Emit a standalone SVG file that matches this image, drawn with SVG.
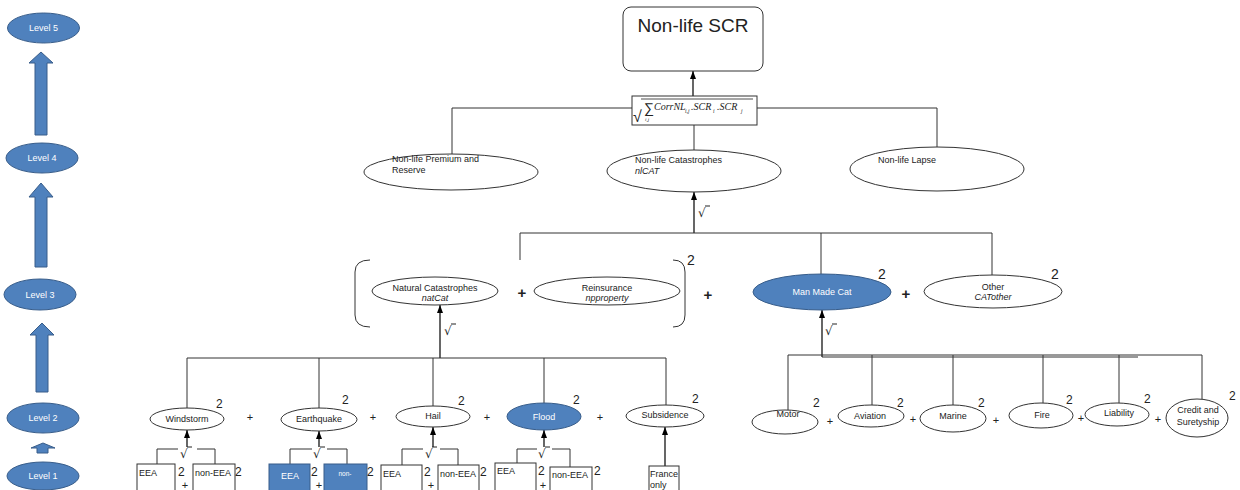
<svg xmlns="http://www.w3.org/2000/svg" width="1240" height="490" viewBox="0 0 1240 490">
<defs>
<marker id="ah" markerWidth="8" markerHeight="6" refX="8" refY="3" orient="auto" markerUnits="userSpaceOnUse" viewBox="0 0 8 6">
<path d="M0,0 L8,3 L0,6 Z" fill="#000"/>
</marker>
<style>
text{font-family:"Liberation Sans",Arial,sans-serif;fill:#222}
.lvl{fill:#4F81BD;stroke:#385D8A;stroke-width:1}
.lvt{fill:#fff;font-size:9px;text-anchor:middle}
.e{fill:#fff;stroke:#333;stroke-width:1}
.b{fill:#4F81BD;stroke:#385D8A;stroke-width:1}
.t{font-size:9px}
.c{text-anchor:middle}
.w{fill:#fff}
.i{font-style:italic}
.two{font-size:12px}
.two3{font-size:14px}
.pl{font-size:11px;text-anchor:middle}
.pl3{font-size:15px;text-anchor:middle}
.sq{font-size:12px;font-family:"DejaVu Sans",sans-serif}
.ln{fill:none;stroke:#333;stroke-width:1}
.ar{fill:none;stroke:#000;stroke-width:1.2;marker-end:url(#ah)}
.bx{fill:#fff;stroke:#333;stroke-width:1}
.f{font-family:"Liberation Serif","Times New Roman",serif;font-style:italic}
</style>
</defs>
<rect width="1240" height="490" fill="#fff"/>

<g id="levels">
<g id="level5"><ellipse class="lvl" cx="43.5" cy="28" rx="36" ry="15"/><text class="lvt" x="43.5" y="31">Level 5</text></g>
<polygon class="lvl" points="41,52 53,63 47,63 47,135 35,135 35,63 29,63"/>
<g id="level4"><ellipse class="lvl" cx="42" cy="158" rx="36" ry="15"/><text class="lvt" x="42" y="161">Level 4</text></g>
<polygon class="lvl" points="41,183 53,197 47,197 47,267 35,267 35,197 29,197"/>
<g id="level3"><ellipse class="lvl" cx="40" cy="294.5" rx="36" ry="15.5"/><text class="lvt" x="40" y="298">Level 3</text></g>
<polygon class="lvl" points="42,323 54,335 48,335 48,392 36,392 36,335 30,335"/>
<g id="level2"><ellipse class="lvl" cx="43" cy="418" rx="36" ry="15"/><text class="lvt" x="43" y="421">Level 2</text></g>
<polygon class="lvl" points="43,443 55,448 48,448 48,453 37,453 37,448 31,448"/>
<g id="level1"><ellipse class="lvl" cx="43" cy="476" rx="36" ry="14"/><text class="lvt" x="43" y="479">Level 1</text></g>
</g>

<g id="connectors">
<line class="ar" x1="693" y1="96" x2="693" y2="71"/>
<polyline class="ln" points="632,108 452,108 452,154"/>
<polyline class="ln" points="757,108 937,108 937,147"/>
<line class="ln" x1="694" y1="125" x2="694" y2="150"/>
<line class="ar" x1="694" y1="233" x2="694" y2="192"/>
<polyline class="ln" points="520,260 520,233 992,233 992,275"/>
<line class="ln" x1="821" y1="233" x2="821" y2="274"/>
<line class="ar" x1="440" y1="358" x2="440" y2="305"/>
<polyline class="ln" points="187,409 187,358 666,358 666,405"/>
<line class="ln" x1="319" y1="358" x2="319" y2="408"/>
<line class="ln" x1="433" y1="358" x2="433" y2="406"/>
<line class="ln" x1="544" y1="358" x2="544" y2="404"/>
<line class="ar" x1="822" y1="357" x2="822" y2="310"/>
<polyline class="ln" points="788,410 788,355 1202,355 1202,399"/>
<line class="ln" x1="822" y1="357" x2="1138" y2="357"/>
<line class="ln" x1="872" y1="355" x2="872" y2="405"/>
<line class="ln" x1="953" y1="355" x2="953" y2="405"/>
<line class="ln" x1="1043" y1="355" x2="1043" y2="403"/>
<line class="ln" x1="1119" y1="355" x2="1119" y2="403"/>
<polyline class="ln" points="157,464 157,449 178,449"/><polyline class="ln" points="197,449 215,449 215,464"/>
<line class="ar" x1="187" y1="447" x2="187" y2="430"/>
<polyline class="ln" points="290,464 290,449 312,449"/><polyline class="ln" points="327,449 347,449 347,464"/>
<line class="ar" x1="319" y1="447" x2="319" y2="431"/>
<polyline class="ln" points="402,465 402,449 423,449"/><polyline class="ln" points="440,449 458,449 458,465"/>
<line class="ar" x1="433" y1="447" x2="433" y2="427"/>
<polyline class="ln" points="517,463 517,449 537,449"/><polyline class="ln" points="552,449 570,449 570,467"/>
<line class="ar" x1="544" y1="447" x2="544" y2="430"/>
<line class="ar" x1="665" y1="466" x2="665" y2="427"/>
</g>

<g id="n-scr">
<rect x="623" y="7" width="140" height="64" rx="8" fill="#fff" stroke="#333"/>
<text x="693" y="32" font-size="19" class="c">Non-life SCR</text>
</g>

<g id="n-formula">
<rect class="bx" x="632" y="96" width="125" height="29"/>
<text x="633" y="122" font-size="16" font-family="Liberation Serif,serif">√</text>
<line x1="641" y1="99" x2="753" y2="99" stroke="#222" stroke-width="0.8"/>
<text x="644" y="113" font-size="14" font-family="Liberation Serif,serif">∑</text>
<text class="f" x="645" y="121" font-size="5">i,j</text>
<text class="f" x="654" y="110" font-size="10">CorrNL</text>
<text class="f" x="685" y="113" font-size="5.5">i,j</text>
<text class="f" x="691" y="110" font-size="10">.SCR</text>
<text class="f" x="713" y="113" font-size="5.5">i</text>
<text class="f" x="717" y="110" font-size="10">.SCR</text>
<text class="f" x="741" y="113" font-size="5.5">j</text>
</g>

<g id="n-premium">
<ellipse class="e" cx="451" cy="172" rx="87" ry="18"/>
<text class="t" x="392" y="162">Non-life Premium  and</text>
<text class="t" x="392" y="173">Reserve</text>
</g>
<g id="n-nlcat">
<ellipse class="e" cx="694" cy="171" rx="87" ry="21"/>
<text class="t" x="635" y="163">Non-life Catastrophes</text>
<text class="t i" x="635" y="174">nlCAT</text>
</g>
<g id="n-lapse">
<ellipse class="e" cx="937" cy="169" rx="87" ry="22"/>
<text class="t" x="878" y="163">Non-life Lapse</text>
</g>
<text class="sq" x="698" y="217">√</text><line x1="705" y1="206" x2="710" y2="206" stroke="#222"/>

<g id="bracket">
<path class="ln" d="M370,260 Q355,260 355,272 L355,315 Q355,327 370,327"/>
<path class="ln" d="M673,260 Q685,260 685,272 L685,315 Q685,327 673,327"/>
<text class="two3" x="687" y="265">2</text>
</g>
<g id="n-natcat">
<ellipse class="e" cx="435" cy="291" rx="63" ry="14"/>
<text class="t c" x="435" y="291">Natural  Catastrophes</text>
<text class="t c i" x="435" y="301">natCat</text>
</g>
<text class="pl3" x="522" y="298" font-weight="bold">+</text>
<g id="n-reins">
<ellipse class="e" cx="607" cy="291" rx="73" ry="14"/>
<text class="t c" x="607" y="291">Reinsurance</text>
<text class="t c i" x="607" y="301">npproperty</text>
</g>
<text class="pl3" x="708" y="300" font-weight="bold">+</text>
<text class="sq" x="444" y="335">√</text><line x1="451" y1="324" x2="456" y2="324" stroke="#222"/>

<g id="n-manmade">
<ellipse class="b" cx="822" cy="292" rx="69" ry="18"/>
<text class="t c w" x="822" y="295">Man Made Cat</text>
<text class="two3" x="878" y="279">2</text>
</g>
<text class="pl3" x="906" y="299" font-weight="bold">+</text>
<g id="n-other">
<ellipse class="e" cx="993" cy="291.5" rx="69" ry="16.5"/>
<text class="t c" x="993" y="290">Other</text>
<text class="t c i" x="993" y="300">CATother</text>
<text class="two3" x="1051" y="279">2</text>
</g>
<text class="sq" x="825" y="335">√</text><line x1="832" y1="324" x2="837" y2="324" stroke="#222"/>

<g id="n-windstorm">
<ellipse class="e" cx="187" cy="419" rx="37" ry="11"/>
<text class="t c" x="187" y="422">Windstorm</text>
<text class="two" x="216" y="408">2</text>
</g>
<text class="pl" x="250" y="421">+</text>
<g id="n-earthquake">
<ellipse class="e" cx="319" cy="419.5" rx="38" ry="11.5"/>
<text class="t c" x="319" y="422">Earthquake</text>
<text class="two" x="342" y="404">2</text>
</g>
<text class="pl" x="373" y="421">+</text>
<g id="n-hail">
<ellipse class="e" cx="433" cy="416.5" rx="37" ry="10.5"/>
<text class="t c" x="433" y="419">Hail</text>
<text class="two" x="458" y="405">2</text>
</g>
<text class="pl" x="487" y="421">+</text>
<g id="n-flood">
<ellipse class="b" cx="544" cy="416.5" rx="37" ry="13.5"/>
<text class="t c w" x="544" y="420">Flood</text>
<text class="two" x="573" y="404">2</text>
</g>
<text class="pl" x="600" y="421">+</text>
<g id="n-subsidence">
<ellipse class="e" cx="665" cy="416" rx="39" ry="11"/>
<text class="t c" x="665" y="418">Subsidence</text>
<text class="two" x="692" y="403">2</text>
</g>

<g id="n-motor">
<ellipse class="e" cx="785" cy="422" rx="33" ry="12"/>
<text class="t c" x="788" y="417">Motor</text>
<text class="two" x="813" y="407">2</text>
</g>
<text class="pl" x="830" y="425">+</text>
<g id="n-aviation">
<ellipse class="e" cx="871" cy="416" rx="33" ry="11"/>
<text class="t c" x="870" y="419">Aviation</text>
<text class="two" x="897" y="407">2</text>
</g>
<text class="pl" x="913" y="423">+</text>
<g id="n-marine">
<ellipse class="e" cx="953" cy="418.5" rx="33" ry="13.5"/>
<text class="t c" x="953" y="419">Marine</text>
<text class="two" x="978" y="407">2</text>
</g>
<text class="pl" x="996" y="424">+</text>
<g id="n-fire">
<ellipse class="e" cx="1041" cy="415.5" rx="32" ry="12.5"/>
<text class="t c" x="1042" y="418">Fire</text>
<text class="two" x="1066" y="404">2</text>
</g>
<text class="pl" x="1081" y="422">+</text>
<g id="n-liability">
<ellipse class="e" cx="1117" cy="414.5" rx="32" ry="11.5"/>
<text class="t c" x="1119" y="416">Liability</text>
<text class="two" x="1144" y="403">2</text>
</g>
<text class="pl" x="1158" y="423">+</text>
<g id="n-credit">
<ellipse class="e" cx="1197" cy="418" rx="31" ry="19"/>
<text class="t c" x="1198" y="413">Credit  and</text>
<text class="t c" x="1198" y="425">Suretyship</text>
<text class="two" x="1229" y="400">2</text>
</g>

<g id="g-windstorm">
<rect class="bx" x="137" y="464" width="38" height="30"/><text class="t" x="139" y="476">EEA</text><text class="two" x="178" y="476">2</text>
<text class="pl" x="185" y="489">+</text>
<rect class="bx" x="193" y="464" width="42" height="30"/><text class="t" x="195" y="476">non-EEA</text><text class="two" x="235" y="476">2</text>
<text class="sq" x="180" y="458">√</text><line x1="187" y1="447" x2="192" y2="447" stroke="#222"/>
</g>
<g id="g-earthquake">
<rect class="b" x="269" y="464" width="41" height="30"/><text class="t c w" x="290" y="479">EEA</text><text class="two" x="311" y="476">2</text>
<text class="pl" x="319" y="489">+</text>
<rect class="b" x="324" y="464" width="43" height="30"/><text class="c w" font-size="6.5" x="345" y="476">non-</text><text class="two" x="367" y="476">2</text>
<text class="sq" x="313" y="458">√</text><line x1="320" y1="447" x2="325" y2="447" stroke="#222"/>
</g>
<g id="g-hail">
<rect class="bx" x="381" y="465" width="41" height="30"/><text class="t" x="383" y="477">EEA</text><text class="two" x="424" y="476">2</text>
<text class="pl" x="431" y="489">+</text>
<rect class="bx" x="438" y="465" width="41" height="30"/><text class="t" x="440" y="477">non-EEA</text><text class="two" x="480" y="476">2</text>
<text class="sq" x="425" y="458">√</text><line x1="432" y1="447" x2="437" y2="447" stroke="#222"/>
</g>
<g id="g-flood">
<rect class="bx" x="495" y="463" width="41" height="30"/><text class="t" x="497" y="474">EEA</text><text class="two" x="538" y="475">2</text>
<text class="pl" x="543" y="489">+</text>
<rect class="bx" x="550" y="467" width="42" height="30"/><text class="t" x="552" y="478">non-EEA</text><text class="two" x="594" y="475">2</text>
<text class="sq" x="538" y="458">√</text><line x1="545" y1="447" x2="550" y2="447" stroke="#222"/>
</g>
<g id="g-subsidence">
<rect class="bx" x="649" y="466" width="30" height="28"/>
<text class="t" x="650" y="477">France</text><text class="t" x="650" y="488">only</text>
</g>
</svg>
